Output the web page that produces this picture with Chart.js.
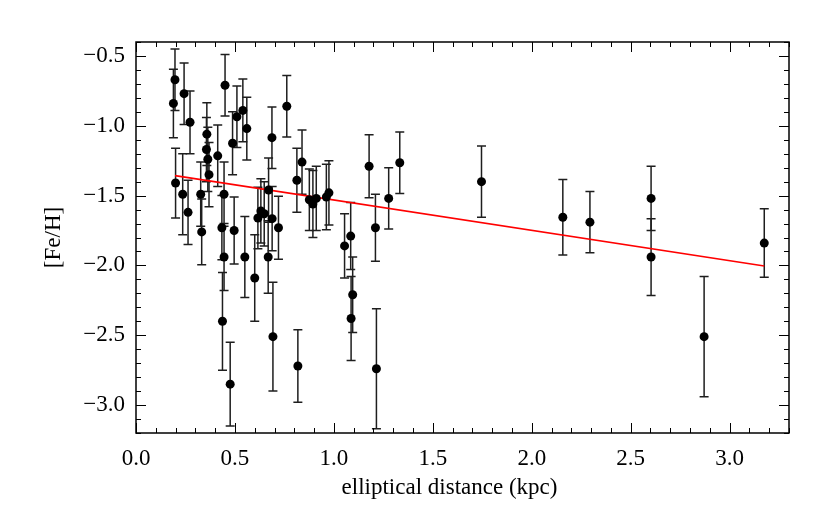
<!DOCTYPE html>
<html>
<head>
<meta charset="utf-8">
<script src="https://cdn.jsdelivr.net/npm/chart.js@4.4.1/dist/chart.umd.min.js"></script>
<style>
  html, body { margin: 0; padding: 0; background: #ffffff; }
  #wrap { width: 830px; height: 519px; }
</style>
</head>
<body>
<div id="wrap"><canvas id="feh" width="830" height="519"></canvas></div>
<script>
// valori
var distKpc = [0.189,0.197,0.200,0.236,0.243,0.263,0.273,0.327,0.332,0.358,
               0.356,0.363,0.369,0.413,0.434,0.437,0.445,0.445,0.450,0.476,
               0.488,0.496,0.510,0.540,0.550,0.560,0.600,0.616,0.631,0.648,
               0.668,0.670,0.687,0.688,0.692,0.720,0.762,0.813,0.818,0.839,
               0.876,0.894,0.911,0.962,0.975,1.054,1.085,1.087,1.095,1.178,
               1.210,1.215,1.277,1.333,1.746,2.157,2.294,2.603,2.603,2.871,3.175]
var feh = [-0.84,-0.67,-1.41,-1.49,-0.77,-1.62,-0.975,-1.49,-1.76,-1.06,
           -1.17,-1.24,-1.35,-1.215,-1.73,-2.40,-1.49,-1.94,-0.71,-2.85,
           -1.125,-1.75,-0.935,-0.89,-1.94,-1.02,-2.09,-1.66,-1.61,-1.63,
           -1.94,-1.46,-1.085,-1.665,-2.51,-1.73,-0.86,-1.39,-2.72,-1.26,
           -1.53,-1.56,-1.52,-1.51,-1.48,-1.86,-1.79,-2.38,-2.21,-1.29,
           -1.73,-2.74,-1.52,-1.265,-1.40,-1.655,-1.69,-1.52,-1.94,-2.51,-1.84]
var fehErr = [0.245,0.22,0.25,0.29,0.22,0.23,0.225,0.23,0.235,0.225,
              0.23,0.23,0.23,0.22,0.23,0.35,0.23,0.24,0.22,0.30,
              0.225,0.24,0.22,0.225,0.29,0.225,0.31,0.22,0.23,0.23,
              0.26,0.23,0.22,0.23,0.39,0.225,0.22,0.23,0.26,0.23,
              0.22,0.24,0.23,0.235,0.23,0.23,0.24,0.30,0.27,0.225,
              0.24,0.43,0.22,0.22,0.255,0.27,0.22,0.23,0.275,0.43,0.245]
// retta di fit (estremi)
var fitX = [0.197, 3.175]
var fitY = [-1.357, -2.004]
var xTickVals = [0.0, 0.5, 1.0, 1.5, 2.0, 2.5, 3.0]
var yTickVals = [-3.0, -2.5, -2.0, -1.5, -1.0, -0.5]
var xTitle = 'elliptical distance (kpc)'

var pts = distKpc.map(function (x, i) { return {x: x, y: feh[i]} })
var fitPts = fitX.map(function (x, i) { return {x: x, y: fitY[i]} })

Chart.defaults.font.family = '"Liberation Serif", "DejaVu Serif", serif';
Chart.defaults.font.size = 23;
Chart.defaults.color = '#000000';

// barre d'errore
var errorBars = {
    id: 'errorBars',
    beforeDatasetsDraw: function (chart) {
        var c = chart.ctx, xs = chart.scales.x, ys = chart.scales.y;
        c.save();
        c.strokeStyle = '#1e1e1e';
        c.lineWidth = 1.5;
        for (var i = 0; i < distKpc.length; i++) {
            var px = xs.getPixelForValue(distKpc[i]);
            var top = ys.getPixelForValue(feh[i] + fehErr[i]);
            var bot = ys.getPixelForValue(feh[i] - fehErr[i]);
            c.beginPath();
            c.moveTo(px, top); c.lineTo(px, bot);
            c.moveTo(px - 4.5, top); c.lineTo(px + 4.5, top);
            c.moveTo(px - 4.5, bot); c.lineTo(px + 4.5, bot);
            c.stroke();
        }
        c.restore();
    }
};

// cornice, tacche verso l'interno e titolo asse x
var frame = {
    id: 'frame',
    afterDraw: function (chart) {
        var c = chart.ctx, a = chart.chartArea, xs = chart.scales.x, ys = chart.scales.y;
        c.save();
        c.strokeStyle = '#000000';
        c.lineWidth = 1.5;
        c.strokeRect(a.left, a.top, a.right - a.left, a.bottom - a.top);
        c.lineWidth = 1;
        c.beginPath();
        for (var k = 0; k <= 33; k++) {
            var px = Math.round(xs.getPixelForValue(k / 10)) + 0.5;
            var len = (k % 5 === 0) ? 10 : 5;
            c.moveTo(px, a.bottom); c.lineTo(px, a.bottom - len);
            c.moveTo(px, a.top); c.lineTo(px, a.top + len);
        }
        for (var k = -32; k <= -4; k++) {
            var py = Math.round(ys.getPixelForValue(k / 10)) + 0.5;
            var len = (k % 5 === 0) ? 10 : 5;
            c.moveTo(a.left, py); c.lineTo(a.left + len, py);
            c.moveTo(a.right, py); c.lineTo(a.right - len, py);
        }
        c.stroke();
        c.fillStyle = '#000000';
        c.font = '23px "Liberation Serif", "DejaVu Serif", serif';
        c.textAlign = 'center';
        c.textBaseline = 'middle';
        c.fillText(xTitle, (a.left + a.right) / 2 - 13, 488);
        c.restore();
    }
};

var ctx = document.getElementById('feh').getContext('2d');
var chart = new Chart(ctx, {
    data: {
        datasets: [{
            type: 'line',
            label: 'fit',
            data: fitPts,
            borderColor: '#ff0000',
            borderWidth: 1.6,
            pointRadius: 0,
            fill: false,
            order: 1
        }, {
            type: 'scatter',
            label: '[Fe/H]',
            data: pts,
            backgroundColor: '#000000',
            borderColor: '#000000',
            pointRadius: 4.5,
            borderWidth: 0,
            order: 0
        }]
    },
    options: {
        responsive: false,
        animation: false,
        layout: { padding: { top: 42, right: 41, left: 0, bottom: 0 } },
        scales: {
            x: {
                type: 'linear',
                min: 0, max: 3.3,
                grid: { display: false },
                border: { display: false },
                afterFit: function (s) { s.height = 86; },
                afterBuildTicks: function (s) { s.ticks = xTickVals.map(function (v) { return {value: v} }) },
                ticks: {
                    padding: 4,
                    maxRotation: 0,
                    callback: function (v) { return v.toFixed(1) }
                },
                title: { display: false }
            },
            y: {
                type: 'linear',
                min: -3.2, max: -0.4,
                grid: { display: false },
                border: { display: false },
                afterFit: function (s) { s.width = 136; },
                afterBuildTicks: function (s) { s.ticks = yTickVals.map(function (v) { return {value: v} }) },
                ticks: {
                    padding: 3,
                    callback: function (v) { return v.toFixed(1).replace('-', '\u2212') }
                },
                title: {
                    display: true,
                    text: '[Fe/H]',
                    padding: { top: 40, bottom: 0 }
                }
            }
        },
        plugins: {
            legend: { display: false },
            tooltip: { enabled: false }
        }
    },
    plugins: [errorBars, frame]
});
</script>
</body>
</html>
